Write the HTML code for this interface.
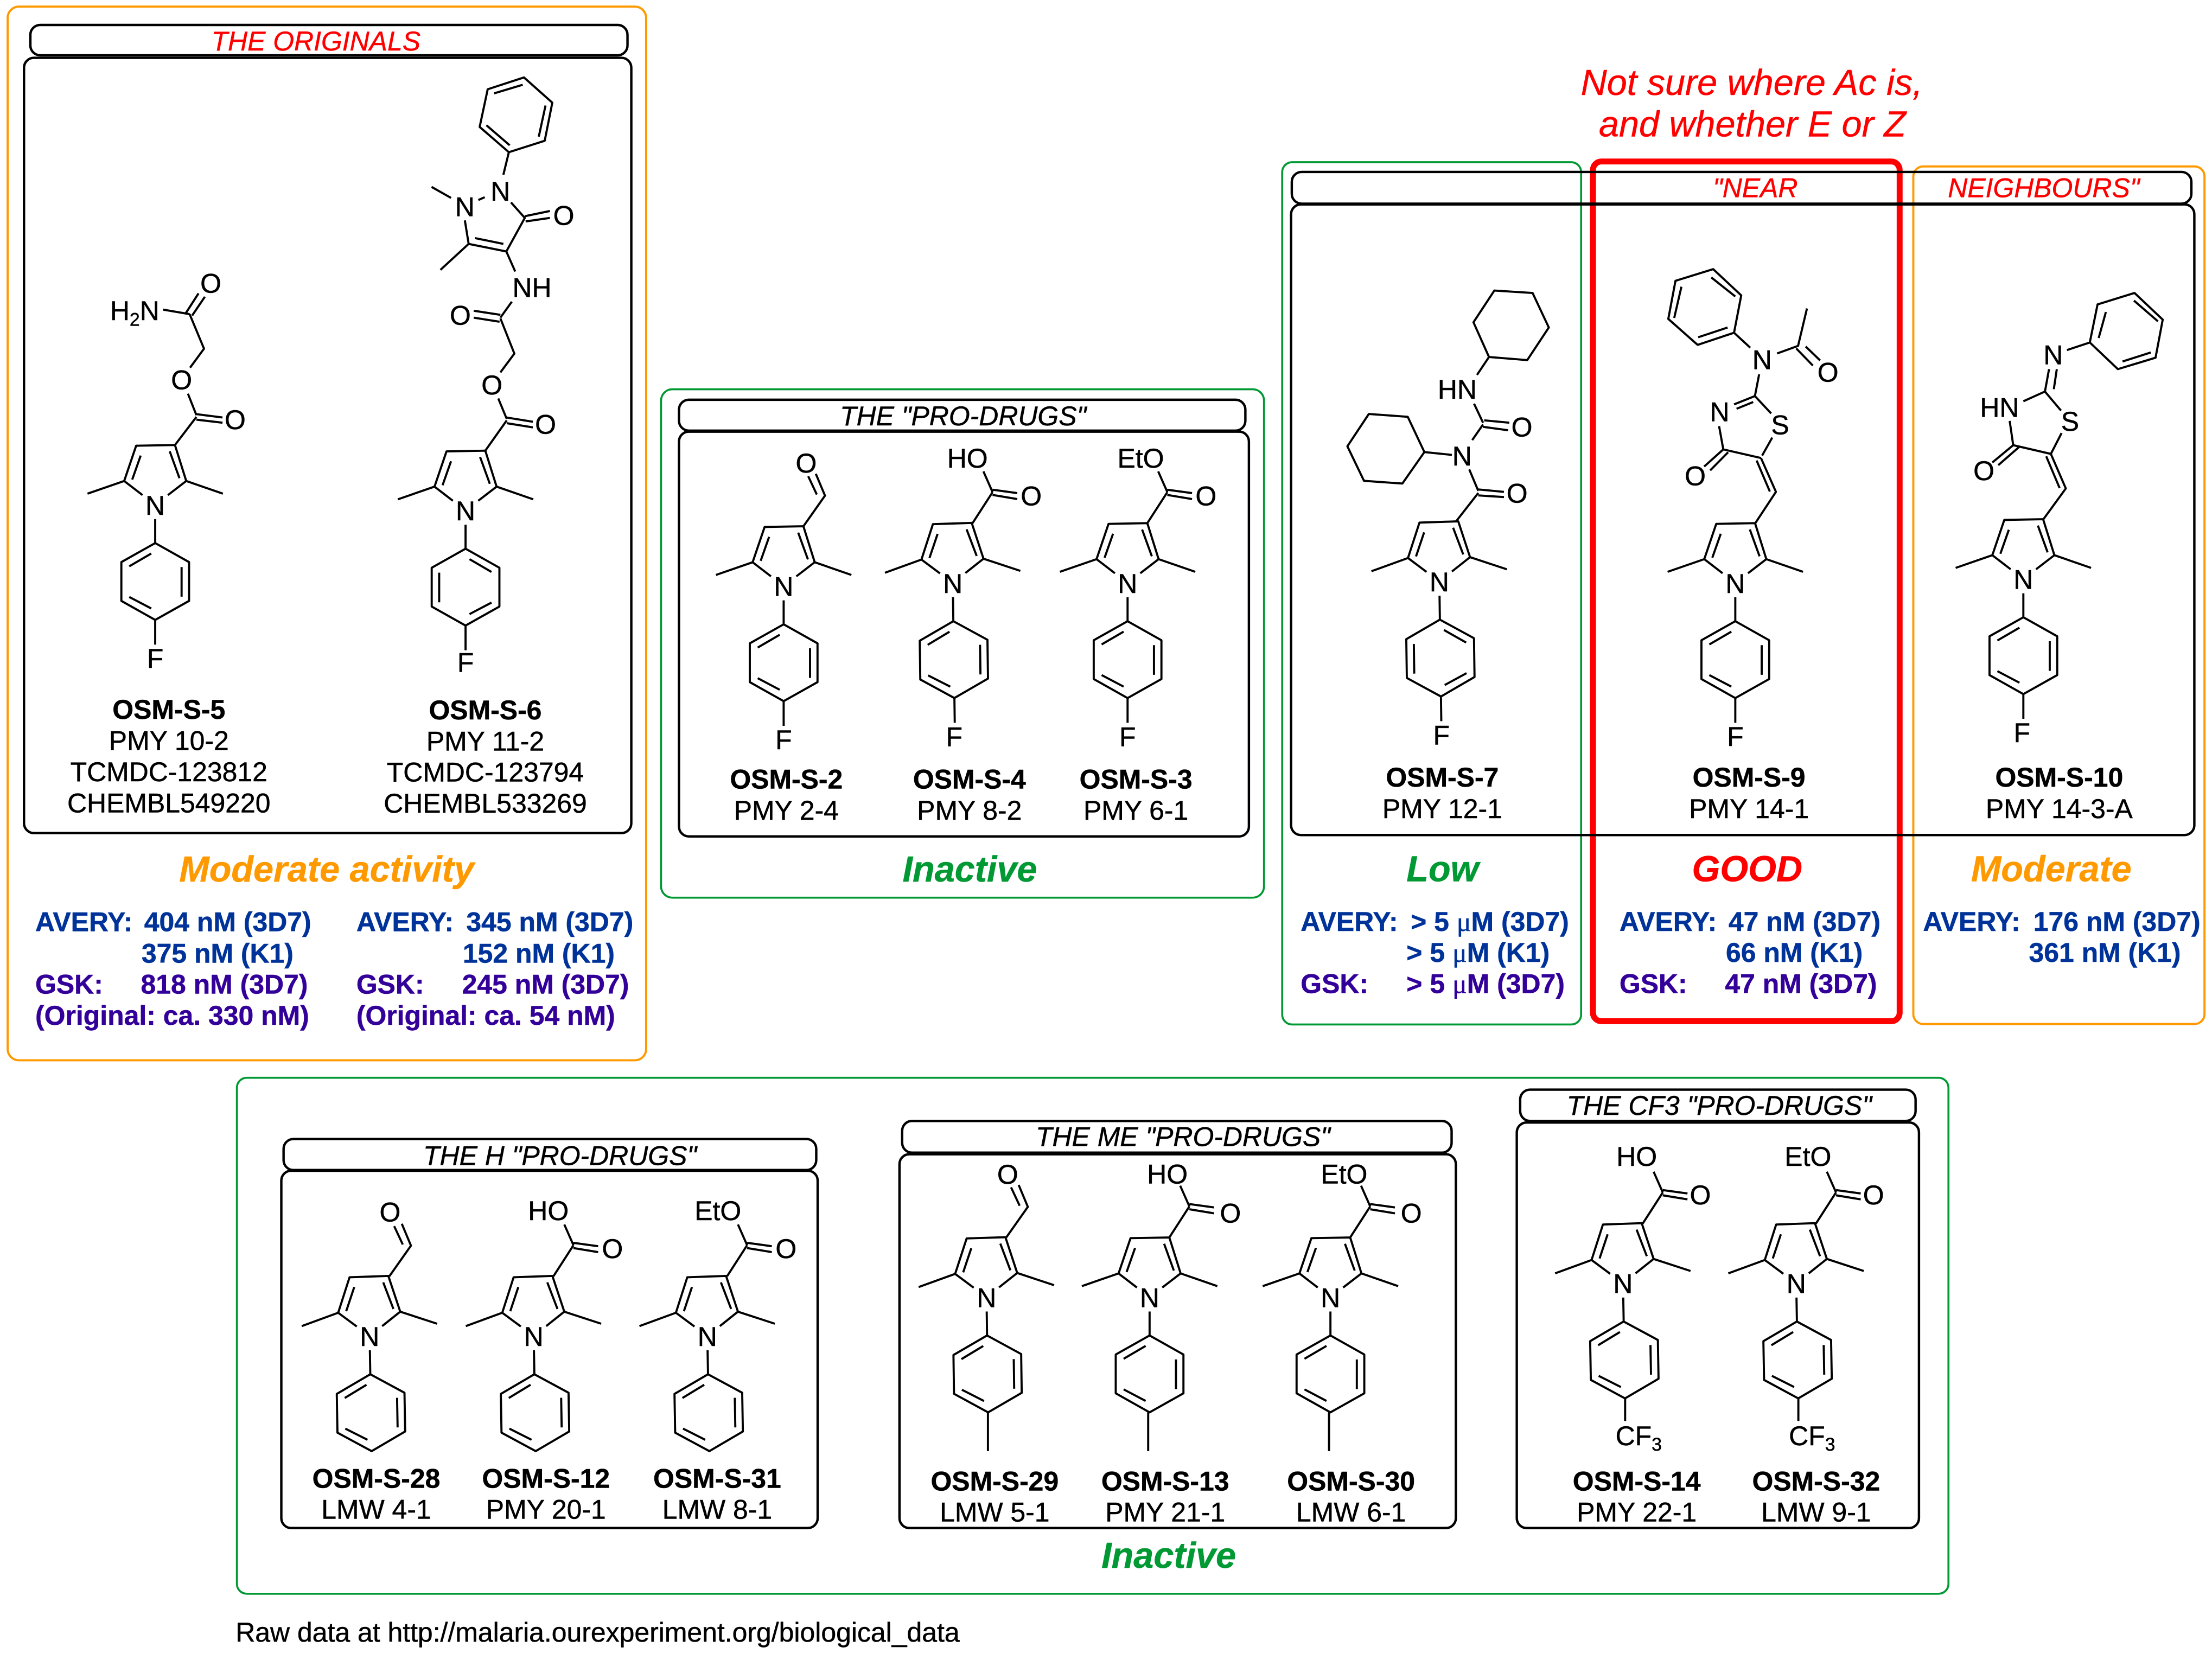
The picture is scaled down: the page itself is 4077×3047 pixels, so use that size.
<!DOCTYPE html>
<html><head><meta charset="utf-8"><title>OSM series</title>
<style>
html,body{margin:0;padding:0;background:#fff}
svg{display:block}
text{font-family:"Liberation Sans",sans-serif;font-size:19.2px;fill:#000;stroke:#000;stroke-width:.2}
.a{text-anchor:middle}
.l{text-anchor:middle}
.o{text-anchor:middle;font-weight:bold}
.bl{font-weight:bold;fill:#003399;stroke:#003399}
.pu{font-weight:bold;fill:#330099;stroke:#330099}
.t{font-style:italic}
.r{font-style:italic;fill:#f00;stroke:#f00}
.h{font-style:italic;font-weight:bold;font-size:25.6px}
.big{font-style:italic;fill:#f00;stroke:#f00;font-size:25.6px}
.mu{font-family:"Liberation Serif",serif;font-weight:normal}
.k{fill:none;stroke:#000;stroke-width:1.7}
.g{fill:none;stroke:#009933;stroke-width:1.4}
.og{fill:none;stroke:#ff9900;stroke-width:1.5}
.b{fill:none;stroke:#000;stroke-width:1.5;stroke-linejoin:round}
</style></head><body>
<svg xmlns="http://www.w3.org/2000/svg" width="4077" height="3047" viewBox="0 0 1568 1171.9">
<defs>
<path id="ca" class="b" d="M-9 -7L-22 -17L-13.5 -42L14 -42.5L22 -17L9 -7M-22 -17L-48 -8M22 -17L48 -8M-16.3 -18L-10.3 -35M10.3 -38L17.2 -19M0 10V27M0 27L24 40.5V68L0 81.5L-24 68V40.5ZM-18.4 43.5L-2.8 34.4M18.7 44V65M-18.4 65.2L-2.8 73.4"/>
<path id="cb" class="b" d="M-9 -7L-22 -17L-13.5 -42L14 -42.5L22 -17L9 -7M-22 -17L-48 -8M22 -17L48 -8M-16.3 -18L-10.3 -35M10.3 -38L17.2 -19M0 10V27M0 27L24 40.5V68L0 81.5L-24 68V40.5ZM18.4 43.5L2.8 34.4M-18.7 44V65M18.4 65.2L2.8 73.4"/>
<path id="f" class="b" d="M0 81.5V99"/>
<path id="cho" class="b" d="M14 -42.5L29.3 -64.2L22.8 -79.7M23.5 -65L17.4 -78"/>
<path id="acid" class="b" d="M14 -42.5L28.2 -64.5M28.2 -66.2L45.7 -63.8M28.2 -62.5L45.7 -59.6M28.2 -64.5L21.7 -79.2"/>
</defs>
<rect width="1568" height="1172" fill="#fff"/>

<!-- coloured frames -->
<rect class="og" x="5.4" y="4.7" width="452.6" height="747" rx="8"/>
<rect class="g" x="468.6" y="276" width="427.4" height="360.4" rx="8"/>
<rect class="g" x="908.9" y="115" width="211.9" height="611.3" rx="7"/>
<rect x="1129.2" y="114.5" width="217.4" height="609.5" rx="6" fill="none" stroke="#f00" stroke-width="4.2"/>
<rect class="og" x="1356.3" y="118" width="206.4" height="608" rx="7"/>
<rect class="g" x="167.9" y="764.1" width="1213.3" height="365.8" rx="7"/>

<!-- black boxes -->
<rect class="k" x="21.5" y="17.7" width="423.3" height="21.5" rx="7"/>
<rect class="k" x="17" y="41" width="430.5" height="549.6" rx="7"/>
<rect class="k" x="481.3" y="283.4" width="401.5" height="21.9" rx="7"/>
<rect class="k" x="481.3" y="306" width="404" height="287" rx="7"/>
<rect class="k" x="915.7" y="121.9" width="637.7" height="22.5" rx="7"/>
<rect class="k" x="915.2" y="144.9" width="640.3" height="447.1" rx="7"/>
<rect class="k" x="201" y="807.5" width="377.6" height="22" rx="7"/>
<rect class="k" x="199.4" y="830" width="380.2" height="253.3" rx="7"/>
<rect class="k" x="639.5" y="794.7" width="389.5" height="22.5" rx="7"/>
<rect class="k" x="637.6" y="818.3" width="394.4" height="265" rx="7"/>
<rect class="k" x="1077.6" y="772.5" width="280.3" height="22.2" rx="7"/>
<rect class="k" x="1075.2" y="795.8" width="285.1" height="287.5" rx="7"/>

<!-- titles -->
<text class="r" x="149.8" y="35.7">THE ORIGINALS</text>
<text class="t" x="595.4" y="301.6">THE "PRO-DRUGS"</text>
<text class="r" x="1214.2" y="139.8">"NEAR</text>
<text class="r" x="1380.8" y="139.8">NEIGHBOURS"</text>
<text class="big" x="1120.6" y="67.4">Not sure where Ac is,</text>
<text class="big" x="1133.4" y="96.8">and whether E or Z</text>
<text class="t" x="300" y="825.9">THE H "PRO-DRUGS"</text>
<text class="t" x="734.2" y="812.5">THE ME "PRO-DRUGS"</text>
<text class="t" x="1110.6" y="790.3">THE CF3 "PRO-DRUGS"</text>

<!-- OSM-S-5 -->
<g transform="translate(110,358)"><use href="#ca"/><use href="#f"/><text class="a" y="6.9">N</text><text class="a" y="115.5">F</text></g>
<path class="b" d="M124 315.5L139.2 295.6M139.2 293.6L157.7 296M139.2 297.5L157.7 299.7M139.2 294.3L133.2 279.1M134.7 260.7L144.6 247.2L134.4 222.7M131.7 222L140.7 208M136.2 223.7L145.2 210.4M115.5 219.5L134.4 222.7"/>
<text class="a" x="166.7" y="304.2">O</text>
<text class="a" x="128.7" y="276">O</text>
<text class="a" x="149.4" y="207.5">O</text>
<text x="78" y="226.9">H<tspan font-size="13" dy="4">2</tspan><tspan dy="-4">N</tspan></text>
<text class="o" x="119.7" y="509.7">OSM-S-5</text>
<text class="l" x="119.7" y="531.8">PMY 10-2</text>
<text class="l" x="119.7" y="553.8">TCMDC-123812</text>
<text class="l" x="119.7" y="575.9">CHEMBL549220</text>

<!-- OSM-S-6 -->
<g transform="translate(330,362)"><use href="#cb"/><use href="#f"/><text class="a" y="6.9">N</text><text class="a" y="114.4">F</text></g>
<path class="b" d="M344 319.5L359.2 298M359.2 296L377.7 299M359.2 300L377.7 303M359.2 297L353.2 282.5M354.7 264L364.6 250.7L354.7 225.7M335.8 220.3L354.7 223.2M335.8 225.2L354.1 228.1M354.7 225.2L362.8 213.9M365.2 192.5L358.9 178.3L332.2 172.9L329.5 156.2M356.8 172.9L336.7 168.8M305.9 132.5L319.7 140.3M339.1 141.8L343.6 139.8M362.2 143.5L372 154.5L358.9 178.3M372 153.3L389.8 149.6M372.6 157L389.8 154.5M332.2 172.9L312.2 191.3M356.8 123.9L360.7 107.9"/>
<path class="b" d="M360.7 107.9L386.1 99.8L391.5 72.8L371.4 54.9L345.7 63.3L340 90ZM381.9 96.9L386.7 74.8M370.5 60.1L350.2 66.2M344.8 88.8L361.3 103"/>
<text class="a" x="386.7" y="307.4">O</text>
<text class="a" x="348.7" y="279.7">O</text>
<text class="a" x="326.3" y="230.1">O</text>
<text class="a" x="377.1" y="210.5">NH</text>
<text class="a" x="329.5" y="153.3">N</text>
<text class="a" x="354.7" y="142.3">N</text>
<text class="a" x="399.6" y="159.5">O</text>
<text class="o" x="344" y="510">OSM-S-6</text>
<text class="l" x="344" y="532.1">PMY 11-2</text>
<text class="l" x="344" y="554.1">TCMDC-123794</text>
<text class="l" x="344" y="576.2">CHEMBL533269</text>

<text class="h" x="127" y="625" style="fill:#ff9900;stroke:#ff9900">Moderate activity</text>
<text class="bl" x="25" y="660.2">AVERY:</text><text class="bl" x="102.2" y="660.2">404 nM (3D7)</text>
<text class="bl" x="100.3" y="682.4">375 nM (K1)</text>
<text class="pu" x="25" y="704.5">GSK:</text><text class="pu" x="99.8" y="704.5">818 nM (3D7)</text>
<text class="pu" x="25" y="726.6">(Original: ca. 330 nM)</text>
<text class="bl" x="252.6" y="660.2">AVERY:</text><text class="bl" x="330.5" y="660.2">345 nM (3D7)</text>
<text class="bl" x="328" y="682.4">152 nM (K1)</text>
<text class="pu" x="252.6" y="704.5">GSK:</text><text class="pu" x="327.5" y="704.5">245 nM (3D7)</text>
<text class="pu" x="252.6" y="726.6">(Original: ca. 54 nM)</text>

<!-- PRO-DRUGS -->
<g transform="translate(555.5,415.6)"><use href="#ca"/><use href="#f"/><use href="#cho"/><text class="a" y="6.9">N</text><text class="a" y="115.6">F</text><text class="a" x="16" y="-80.6">O</text></g>
<g transform="translate(675.4,413.4)"><use href="#ca" transform="rotate(-.8)"/><use href="#f" transform="rotate(-.8)"/><use href="#acid"/><text class="a" y="6.9">N</text><text class="a" x="1" y="115.6">F</text><text class="a" x="55.6" y="-55.1">O</text><text class="a" x="10.4" y="-81.9">HO</text></g>
<g transform="translate(799.3,413.4)"><use href="#ca"/><use href="#f"/><use href="#acid"/><text class="a" y="6.9">N</text><text class="a" y="115.6">F</text><text class="a" x="55.6" y="-55.1">O</text><text class="a" x="9.3" y="-81.9">EtO</text></g>
<text class="o" x="557.4" y="559.1">OSM-S-2</text><text class="l" x="557.4" y="581.2">PMY 2-4</text>
<text class="o" x="687.2" y="559.1">OSM-S-4</text><text class="l" x="687.2" y="581.2">PMY 8-2</text>
<text class="o" x="805.2" y="559.1">OSM-S-3</text><text class="l" x="805.2" y="581.2">PMY 6-1</text>
<text class="h" x="639.8" y="624.9" style="fill:#009933;stroke:#009933">Inactive</text>

<!-- OSM-S-7 -->
<g transform="translate(1020.3,412.3)"><use href="#cb" transform="rotate(-.8)"/><use href="#f" transform="rotate(-.8)"/><text class="a" y="6.9">N</text><text class="a" y="115.5" x="1.5">F</text></g>
<path class="b" d="M1032.2 369.6L1047.9 349.5M1047.9 347L1066.1 348.7M1047.9 351.2L1066.1 352.4M1047.9 348L1041.5 332.8M1043.6 312L1051.3 300.9M1052.1 298L1069.9 299.7M1051.3 302.6L1069 305M1044.9 286.2L1051.3 299.7M1047 265.8L1055.5 253.1M1029.2 322.5L1009.7 320.5"/>
<path class="b" d="M1055.5 253.1L1082.6 255.3L1097.9 232.2L1086.4 207.7L1059.3 206L1044.5 228.5Z"/>
<path class="b" d="M1009.7 320.5L997.9 295.5L970.3 293.5L955.1 316.4L966.9 340.9L994.1 342.8Z"/>
<text class="a" x="1036.4" y="329.9">N</text>
<text class="a" x="1075.4" y="356.4">O</text>
<text class="a" x="1078.8" y="309.5">O</text>
<text class="a" x="1033" y="282.6">HN</text>
<text class="o" x="1022.4" y="557.6">OSM-S-7</text><text class="l" x="1022.4" y="580">PMY 12-1</text>
<text class="h" x="997" y="624.8" style="fill:#009933;stroke:#009933">Low</text>
<text class="bl" x="922" y="660">AVERY:</text><text class="bl" x="1000" y="660">&gt; 5 <tspan class="mu">μ</tspan>M (3D7)</text>
<text class="bl" x="997" y="682">&gt; 5 <tspan class="mu">μ</tspan>M (K1)</text>
<text class="pu" x="922" y="704">GSK:</text><text class="pu" x="997" y="704">&gt; 5 <tspan class="mu">μ</tspan>M (3D7)</text>

<!-- OSM-S-9 -->
<g transform="translate(1230.1,413.4)"><use href="#ca"/><use href="#f"/><text class="a" y="6.9">N</text><text class="a" y="115.5">F</text></g>
<path class="b" d="M1244 371.3L1258.9 348.7L1248.3 324.7M1254.6 348.5L1245.2 326.5M1249.1 323L1256.3 310.2M1255.5 293.1L1244 280.8M1242.8 285L1231 289.8M1244 280.8L1229.2 286.7M1218.6 302.1L1221.6 318.6L1248.3 324.7M1221.6 318.6L1208 330.8M1225 320.6L1212.3 333.5M1244 280.8L1247 265.4M1259.7 250.6L1274.6 245.2L1280.9 218.7M1273.3 247L1285.1 259.2M1280 245.7L1290.2 255.5M1240.7 246.5L1229.2 235.9"/>
<path class="b" d="M1229.2 235.9L1203.4 244.5L1182.6 226.1L1187.7 199.1L1214.4 190.8L1234.3 209.4ZM1224.6 232.2L1203.8 239.1M1186.8 225.4L1191.9 203.3M1213.1 196.7L1230.1 210.2"/>
<text class="a" x="1261.9" y="307.8">S</text>
<text class="a" x="1219" y="298.7">N</text>
<text class="a" x="1201.7" y="344.1">O</text>
<text class="a" x="1249.1" y="261.7">N</text>
<text class="a" x="1295.8" y="270.5">O</text>
<text class="o" x="1239.8" y="557.6">OSM-S-9</text><text class="l" x="1239.8" y="580">PMY 14-1</text>
<text class="h" x="1199.4" y="624.8" style="fill:#f00;stroke:#f00">GOOD</text>
<text class="bl" x="1148" y="660">AVERY:</text><text class="bl" x="1225.3" y="660">47 nM (3D7)</text>
<text class="bl" x="1223.4" y="682">66 nM (K1)</text>
<text class="pu" x="1148" y="704">GSK:</text><text class="pu" x="1222.8" y="704">47 nM (3D7)</text>

<!-- OSM-S-10 -->
<g transform="translate(1434.3,410.6)"><use href="#ca"/><use href="#f"/><text class="a" y="6.9">N</text><text class="a" y="115.5" x="-1">F</text></g>
<path class="b" d="M1448.3 368.4L1464.4 346.3L1453.8 321.8M1460 346L1450.5 323.5M1453.8 321.8L1461.4 307M1461 291.1L1449.6 277.6L1434.3 284.5M1424.6 298.4L1427.1 315.6L1453.8 321.8M1427.1 315.6L1412.3 327.9M1431.4 316.8L1416.5 329.8M1449.6 277.6L1452.5 261.7M1455.9 275.9L1458 261.7M1465.2 248.2L1481.4 242.8"/>
<path class="b" d="M1481.4 242.8L1501.3 261.7L1528 253.6L1533.1 226.6L1513.1 207.7L1486.9 215.8ZM1504.6 256.3L1524.6 249.9M1512.7 213.1L1529.7 227.8M1492.8 221.2L1487.7 239.6"/>
<text class="a" x="1467.4" y="305.4">S</text>
<text class="a" x="1417.4" y="295.5">HN</text>
<text class="a" x="1406.3" y="340.4">O</text>
<text class="a" x="1455.5" y="258.3">N</text>
<text class="o" x="1459.7" y="557.6">OSM-S-10</text><text class="l" x="1459.7" y="580">PMY 14-3-A</text>
<text class="h" x="1397.2" y="624.8" style="fill:#ff9900;stroke:#ff9900">Moderate</text>
<text class="bl" x="1363.2" y="660">AVERY:</text><text class="bl" x="1441.4" y="660">176 nM (3D7)</text>
<text class="bl" x="1438.2" y="682">361 nM (K1)</text>

<!-- H series -->
<g transform="translate(262,947.3)"><use href="#ca" transform="rotate(-1)"/><use href="#cho"/><text class="a" y="6.9">N</text><text class="a" x="14.5" y="-81.3">O</text></g>
<g transform="translate(378.3,947.3)"><use href="#ca" transform="rotate(-1)"/><use href="#acid"/><text class="a" y="6.9">N</text><text class="a" x="55.8" y="-55.4">O</text><text class="a" x="10.4" y="-82.4">HO</text></g>
<g transform="translate(501.4,947.3)"><use href="#ca" transform="rotate(-1)"/><use href="#acid"/><text class="a" y="6.9">N</text><text class="a" x="55.8" y="-55.4">O</text><text class="a" x="7.5" y="-82.4">EtO</text></g>
<text class="o" x="266.7" y="1054.8">OSM-S-28</text><text class="l" x="266.7" y="1076.8">LMW 4-1</text>
<text class="o" x="387" y="1054.8">OSM-S-12</text><text class="l" x="387" y="1076.8">PMY 20-1</text>
<text class="o" x="508.4" y="1054.8">OSM-S-31</text><text class="l" x="508.4" y="1076.8">LMW 8-1</text>

<!-- ME series -->
<g transform="translate(699.3,919.8)"><use href="#ca" transform="rotate(-.8)"/><use href="#cho"/><path class="b" d="M1 81.5V109"/><text class="a" y="6.9">N</text><text class="a" x="15" y="-80.6">O</text></g>
<g transform="translate(814.9,919.8)"><use href="#ca"/><use href="#acid"/><path class="b" d="M-1 81.5V109"/><text class="a" y="6.9">N</text><text class="a" x="57.3" y="-53">O</text><text class="a" x="12.6" y="-80.8">HO</text></g>
<g transform="translate(943.1,919.8)"><use href="#ca"/><use href="#acid"/><path class="b" d="M-1 81.5V109"/><text class="a" y="6.9">N</text><text class="a" x="57.3" y="-53">O</text><text class="a" x="9.7" y="-80.8">EtO</text></g>
<text class="o" x="705.1" y="1056.8">OSM-S-29</text><text class="l" x="705.1" y="1078.6">LMW 5-1</text>
<text class="o" x="826" y="1056.8">OSM-S-13</text><text class="l" x="826" y="1078.6">PMY 21-1</text>
<text class="o" x="957.7" y="1056.8">OSM-S-30</text><text class="l" x="957.7" y="1078.6">LMW 6-1</text>
<text class="h" x="780.8" y="1111.6" style="fill:#009933;stroke:#009933">Inactive</text>

<!-- CF3 series -->
<g transform="translate(1150.5,909.9)"><use href="#ca" transform="rotate(-1)"/><use href="#acid"/><path class="b" d="M1.5 81.5V97.5"/><text class="a" y="6.9">N</text><text class="a" x="54.8" y="-56">O</text><text class="a" x="9.7" y="-83.4">HO</text></g>
<text x="1145.2" y="1024.5">CF<tspan font-size="13" dy="4">3</tspan></text>
<g transform="translate(1273.3,909.9)"><use href="#ca" transform="rotate(-1)"/><use href="#acid"/><path class="b" d="M1.5 81.5V97.5"/><text class="a" y="6.9">N</text><text class="a" x="54.8" y="-56">O</text><text class="a" x="8.3" y="-83.4">EtO</text></g>
<text x="1268.1" y="1024.5">CF<tspan font-size="13" dy="4">3</tspan></text>
<text class="o" x="1160.2" y="1056.8">OSM-S-14</text><text class="l" x="1160.2" y="1078.6">PMY 22-1</text>
<text class="o" x="1287.4" y="1056.8">OSM-S-32</text><text class="l" x="1287.4" y="1078.6">LMW 9-1</text>

<text x="167" y="1163.8">Raw data at http://malaria.ourexperiment.org/biological_data</text>
</svg>
</body></html>
